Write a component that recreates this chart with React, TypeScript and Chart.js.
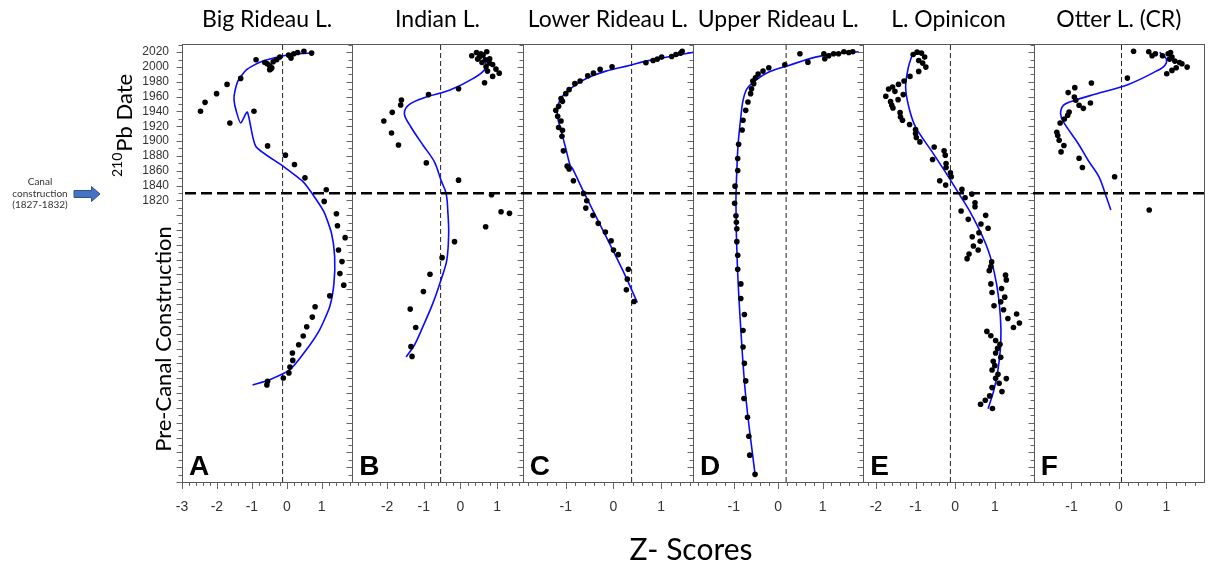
import React, { useEffect, useRef } from 'react';
import { Chart, registerables } from 'chart.js';

Chart.register(...registerables);

// ---------- data ----------
const PANEL_NAMES = ['Big Rideau L.', 'Indian L.', 'Lower Rideau L.', 'Upper Rideau L.', 'L. Opinicon', 'Otter L. (CR)'];
const PANEL_LETTERS = ['A', 'B', 'C', 'D', 'E', 'F'];
const Z_MIN = [-3.0, -2.95, -1.904, -1.917, -2.317, -1.798];
const Z_MAX = [1.876, 1.70, 1.667, 1.918, 1.98, 1.796];
const REF_Z = [-0.12, -0.54, 0.38, 0.18, -0.12, 0.055];
const YEAR_MIN = 1440;
const YEAR_MAX = 2031;
const CANAL_YEAR = 1829.5;
const LABELED_YEARS = [1820, 1840, 1860, 1880, 1900, 1920, 1940, 1960, 1980, 2000, 2020];

// [z-score, year]
const A_POINTS = [
  [0.71, 2018.7], [0.49, 2021.3], [0.31, 2019.6], [0.2, 2017.8], [0.1, 2015], [0.05, 2016], [0.12, 2012],
  [-0.2, 2013.3], [-0.29, 2009.8], [-0.39, 2007], [-0.88, 2009.8], [-0.63, 2006], [-0.56, 2004.4],
  [-0.49, 2001.7], [-0.43, 1999], [-0.49, 1996.3], [-0.45, 1997.5], [-1.32, 1984.6], [-1.71, 1976.5],
  [-2.01, 1964], [-2.34, 1952.3], [-2.47, 1940.2], [-0.94, 1940.2], [-1.63, 1924.4], [-0.55, 1893.5],
  [-0.04, 1881], [0.22, 1868.4], [0.52, 1850.4], [1.13, 1834.3], [1.07, 1818.6], [1.42, 1802],
  [1.45, 1785.8], [1.67, 1769.7], [1.48, 1753], [1.58, 1737.4], [1.52, 1721.2], [1.63, 1705.6],
  [1.23, 1691.2], [0.81, 1676.4], [0.73, 1662.5], [0.57, 1649.5], [0.47, 1637], [0.34, 1625.2],
  [0.16, 1614.1], [0.17, 1604.1], [0.09, 1595.2], [0.06, 1587.2], [-0.1, 1580.4], [-0.55, 1575.9], [-0.57, 1571],
];
const A_LINE = [
  [0.71, 2018.7], [0.28, 2017.8], [-0.2, 2014.2], [-0.77, 2006.5], [-1.15, 1996.3], [-1.39, 1981.9],
  [-1.49, 1966.2], [-1.51, 1955], [-1.44, 1939.2], [-1.32, 1924.4], [-1.13, 1939.2], [-0.89, 1893.1],
  [-0.15, 1867.5], [0.47, 1845], [0.71, 1830.2], [1.06, 1804.7], [1.28, 1775.6], [1.37, 1744.1],
  [1.35, 1708.3], [1.23, 1676.8], [0.94, 1645.4], [0.56, 1618.5], [0.09, 1591.6], [-0.49, 1578.1], [-0.98, 1571],
];

const B_POINTS = [
  [0.31, 2015.2], [0.44, 2019.6], [0.56, 2017.8], [0.72, 2020.5], [0.47, 2010.6], [0.59, 2006.1],
  [0.68, 2009.8], [0.79, 2005.2], [0.88, 2003.4], [0.7, 2000.2], [0.97, 1997.1], [0.74, 1994.4],
  [1.06, 1991.7], [0.88, 1987.3], [0.66, 1978.8], [0.52, 2013.5], [0.62, 2016], [0.8, 2011],
  [-0.05, 1970.7], [-0.87, 1962.7], [-1.61, 1955.4], [-1.63, 1948.7], [-1.86, 1938.8], [-2.09, 1927.1],
  [-1.88, 1911], [-1.69, 1894.8], [-0.93, 1870.6], [-0.05, 1847.3], [0.85, 1827.5], [1.11, 1804.7],
  [1.34, 1802.5], [0.69, 1784.5], [-0.16, 1764.3], [-0.5, 1742.7], [-0.83, 1720.4], [-1.01, 1697],
  [-1.37, 1673.3], [-1.22, 1648.5], [-1.35, 1622.6], [-1.32, 1609.5],
];
const B_LINE = [
  [0.38, 2020.5], [0.63, 2013.3], [0.68, 1997.7], [0.34, 1984.2], [-0.3, 1968.5], [-0.93, 1959.4],
  [-1.39, 1949.6], [-1.53, 1937.1], [-1.35, 1919], [-1.02, 1894.4], [-0.71, 1872], [-0.53, 1847.3],
  [-0.39, 1829.4], [-0.34, 1802.5], [-0.32, 1775.6], [-0.37, 1739.7], [-0.53, 1712.7], [-0.75, 1681.4],
  [-1.02, 1650], [-1.25, 1625.2], [-1.48, 1608.7],
];

const C_POINTS = [
  [1.44, 2021.3], [1.41, 2018.7], [1.31, 2016.9], [1.22, 2014.2], [1.01, 2013.3], [0.92, 2010.6],
  [0.83, 2008.8], [0.68, 2005.7], [-0.03, 2000.2], [-0.28, 1996.7], [-0.42, 1991.7], [-0.54, 1988.2],
  [-0.7, 1981], [-0.81, 1977.5], [-0.93, 1969.4], [-1.0, 1964], [-1.1, 1957.3], [-1.07, 1953.6],
  [-1.15, 1946.9], [-1.21, 1941.5], [-1.17, 1933.5], [-1.1, 1927.1], [-1.15, 1918.3], [-1.07, 1914.6],
  [-1.08, 1906.5], [-1.05, 1886.8], [-0.97, 1866.2], [-0.93, 1862.5], [-0.84, 1846.4], [-0.63, 1829.4],
  [-0.56, 1819.5], [-0.58, 1809.6], [-0.43, 1799.8], [-0.32, 1789], [-0.17, 1777.3], [-0.05, 1765.6],
  [0.0, 1753.1], [0.1, 1746.8], [0.31, 1727.1], [0.29, 1713.7], [0.27, 1699.3], [0.43, 1683.5],
];
const C_LINE = [
  [1.69, 2020], [1.31, 2015.6], [0.68, 2007.9], [0.33, 2002.1], [-0.16, 1994.4], [-0.58, 1984.2],
  [-0.86, 1972.9], [-1.07, 1960.4], [-1.17, 1946], [-1.17, 1931.7], [-1.1, 1914.6], [-1.0, 1890],
  [-0.91, 1867.5], [-0.86, 1863.1], [-0.61, 1829.4], [-0.19, 1775.6], [0.19, 1726.2], [0.5, 1682.2],
];

const D_POINTS = [
  [0.49, 2017.8], [0.67, 2006.5], [1.03, 2017.8], [1.05, 2011.1], [1.14, 2015.2], [1.25, 2017.8],
  [1.36, 2017.8], [1.48, 2020.5], [1.59, 2019.6], [1.68, 2020.5], [0.15, 2003], [-0.21, 1999],
  [-0.34, 1994.4], [-0.45, 1990.4], [-0.51, 1985.5], [-0.57, 1981], [-0.55, 1977.5], [-0.6, 1970.7],
  [-0.62, 1964], [-0.68, 1952.7], [-0.73, 1941.5], [-0.79, 1928.1], [-0.81, 1915], [-0.89, 1895.8],
  [-0.91, 1876.5], [-0.91, 1860.4], [-0.97, 1839.2], [-0.98, 1816], [-0.95, 1799.3], [-0.94, 1790.4],
  [-0.93, 1781.8], [-0.93, 1764.3], [-0.91, 1746], [-0.91, 1727.1], [-0.84, 1707.3], [-0.84, 1687.6],
  [-0.76, 1666], [-0.79, 1644.5], [-0.79, 1622.2], [-0.76, 1600.1], [-0.73, 1576.4], [-0.77, 1552.6],
  [-0.69, 1527.4], [-0.66, 1501.8], [-0.64, 1476.2], [-0.52, 1450.3],
];
const D_LINE = [
  [1.81, 2020.5], [1.36, 2018.7], [0.84, 2013.3], [0.24, 2002.1], [-0.21, 1993.1], [-0.51, 1981.9],
  [-0.7, 1970.7], [-0.79, 1955], [-0.84, 1932.5], [-0.9, 1896.7], [-0.93, 1860.8], [-0.95, 1816],
  [-0.92, 1735.2], [-0.84, 1645.4], [-0.73, 1555.7], [-0.52, 1450.3],
];

const E_POINTS = [
  [-1.06, 2016.9], [-0.96, 2020], [-0.85, 2018.7], [-0.77, 2013.3], [-0.92, 2008.8], [-0.82, 2005.2],
  [-0.74, 1999.8], [-0.92, 1994], [-1.14, 1987.3], [-1.29, 1981], [-1.43, 1976.5], [-1.58, 1972.9],
  [-1.68, 1970.2], [-1.52, 1967.1], [-1.31, 1962.7], [-1.75, 1960.4], [-1.63, 1953.2], [-1.44, 1955.9],
  [-1.6, 1948.3], [-1.57, 1944.6], [-1.39, 1938.4], [-1.38, 1932.5], [-1.33, 1928.1], [-1.15, 1922.3],
  [-1.0, 1915.6], [-1.0, 1910.2], [-0.98, 1904.8], [-0.89, 1898.9], [-0.53, 1892.1], [-0.57, 1875.2],
  [-0.28, 1886.8], [-0.25, 1881], [-0.23, 1869.8], [-0.23, 1864.4], [-0.12, 1857.1], [-0.1, 1851.8],
  [-0.39, 1846.4], [-0.24, 1840.6], [0.17, 1834.8], [0.25, 1823.5], [0.42, 1828.5], [0.15, 1805.6],
  [0.5, 1816.8], [0.5, 1811.4], [0.33, 1794.4], [0.77, 1799.8], [0.65, 1788.1], [0.83, 1782.3],
  [0.6, 1776.4], [0.43, 1771], [0.63, 1764.8], [0.46, 1758.5], [0.58, 1753.1], [0.35, 1747.7],
  [0.3, 1741.4], [0.92, 1737], [0.9, 1730.6], [0.86, 1725.2], [1.27, 1719.1], [1.29, 1712.7],
  [0.9, 1707.3], [1.17, 1701], [0.93, 1695.6], [1.25, 1689.4], [1.15, 1683.1], [0.98, 1677.7],
  [1.22, 1672.4], [1.55, 1666.6], [1.33, 1660.7], [1.62, 1654.5], [1.47, 1648.5], [0.8, 1643.2],
  [0.9, 1637.4], [1.02, 1631], [1.13, 1625.7], [1.07, 1620.3], [1.02, 1614.1], [1.15, 1608.2],
  [0.96, 1602.8], [1.0, 1597], [0.93, 1591.2], [1.08, 1585.3], [1.29, 1579.5], [1.02, 1579.9],
  [1.11, 1573.2], [0.93, 1567.4], [1.18, 1562], [0.87, 1556.2], [0.76, 1550.3], [0.64, 1544.9], [0.94, 1539.1],
];
const E_LINE = [
  [-1.08, 2016.9], [-1.18, 1999.8], [-1.25, 1972.9], [-1.17, 1946], [-1.0, 1919.1], [-0.58, 1885.4],
  [-0.17, 1851.8], [0.09, 1829.4], [0.42, 1800.2], [0.83, 1753.1], [1.04, 1708.3], [1.14, 1663.4],
  [1.15, 1627.5], [1.08, 1591.6], [0.98, 1564.7], [0.83, 1538.7],
];

const F_POINTS = [
  [0.31, 2021.3], [0.63, 2020.5], [0.7, 2015.2], [0.77, 2017.8], [0.92, 2015.2], [1.04, 2017.8],
  [1.09, 2019.6], [1.07, 2010.6], [1.12, 2013.3], [1.18, 2007.9], [1.28, 2006.1], [1.33, 2004.4],
  [1.44, 1999.8], [1.21, 1999], [1.12, 1995.4], [1.01, 1990.9], [0.18, 1985], [-0.58, 1978.3],
  [-0.93, 1972.1], [-1.07, 1965.4], [-0.94, 1959.4], [-0.91, 1955], [-0.6, 1951.4], [-0.84, 1948.3],
  [-0.75, 1944.2], [-1.05, 1939.2], [-1.08, 1934.8], [-1.15, 1929.8], [-1.24, 1924.4], [-1.31, 1911.9],
  [-1.29, 1907.5], [-1.26, 1901.2], [-1.16, 1894], [-1.22, 1885.4], [-0.84, 1876.9], [-0.77, 1864.4],
  [-0.09, 1851.8], [0.64, 1807],
];
const F_LINE = [
  [0.86, 2019.6], [1.0, 2011.1], [0.97, 2002.1], [0.79, 1994.4], [0.2, 1976.5], [-0.51, 1963.1],
  [-0.93, 1955], [-1.17, 1948.3], [-1.23, 1937.1], [-1.17, 1925.8], [-0.86, 1896.7], [-0.65, 1874.2],
  [-0.42, 1851.8], [-0.29, 1829.4], [-0.17, 1807],
];

const POINTS = [A_POINTS, B_POINTS, C_POINTS, D_POINTS, E_POINTS, F_POINTS];
const LINES = [A_LINE, B_LINE, C_LINE, D_LINE, E_LINE, F_LINE];

const toXY = (arr: number[][]) => arr.map(([x, y]) => ({ x, y }));

const TITLE_FONT = 'Lato, "Open Sans", sans-serif';
const isWhole = (v: number) => Math.abs(v - Math.round(v)) < 1e-6;

const decorPlugin = {
  id: 'panelDecor',
  beforeDatasetsDraw(chart: any) {
    const { ctx, chartArea } = chart;
    const yScale = chart.scales.y;
    ctx.save();
    ctx.strokeStyle = '#666';
    ctx.lineWidth = 1;
    for (let i = 0; i < 6; i++) {
      const xs = chart.scales['x' + i];
      const left = Math.round(xs.left) + 0.5;
      for (const t of yScale.ticks) {
        const py = Math.round(yScale.getPixelForValue(t.value)) + 0.5;
        const len = Math.round(t.value) % 20 === 0 ? 6 : 4;
        ctx.beginPath();
        ctx.moveTo(left - len, py);
        ctx.lineTo(left, py);
        ctx.stroke();
      }
      for (const t of xs.ticks) {
        const px = Math.round(xs.getPixelForValue(t.value)) + 0.5;
        ctx.beginPath();
        ctx.moveTo(px, chartArea.bottom);
        ctx.lineTo(px, chartArea.bottom + (isWhole(t.value) ? 7 : 4));
        ctx.stroke();
      }
    }
    ctx.strokeStyle = '#595959';
    for (let i = 0; i < 6; i++) {
      const xs = chart.scales['x' + i];
      ctx.strokeRect(Math.round(xs.left) + 0.5, Math.round(chartArea.top) + 0.5, Math.round(xs.right) - Math.round(xs.left), Math.round(chartArea.bottom - chartArea.top));
    }
    ctx.restore();
  },
  afterDatasetsDraw(chart: any) {
    const { ctx, chartArea } = chart;
    const yScale = chart.scales.y;
    ctx.save();
    const cy = yScale.getPixelForValue(CANAL_YEAR);
    ctx.strokeStyle = '#000';
    ctx.lineWidth = 2.5;
    ctx.setLineDash([11, 5]);
    ctx.beginPath();
    ctx.moveTo(chartArea.left + 3, cy);
    ctx.lineTo(chart.width, cy);
    ctx.stroke();
    ctx.setLineDash([]);

    ctx.fillStyle = '#000';
    for (let i = 0; i < 6; i++) {
      const xs = chart.scales['x' + i];
      ctx.font = `23px ${TITLE_FONT}`;
      ctx.textAlign = 'center';
      ctx.textBaseline = 'alphabetic';
      ctx.fillText(PANEL_NAMES[i], (xs.left + xs.right) / 2, 27);
      ctx.font = 'bold 28px "Liberation Sans", Arial, sans-serif';
      ctx.textAlign = 'left';
      ctx.fillText(PANEL_LETTERS[i], xs.left + 7, chartArea.bottom - 7);
    }

    ctx.save();
    ctx.translate(132, 177);
    ctx.rotate(-Math.PI / 2);
    ctx.textAlign = 'left';
    ctx.font = `14px ${TITLE_FONT}`;
    ctx.fillText('210', 0, -10);
    const w = ctx.measureText('210').width;
    ctx.font = `22px ${TITLE_FONT}`;
    ctx.fillText('Pb Date', w + 1, 0);
    ctx.restore();

    ctx.save();
    ctx.translate(171, 339);
    ctx.rotate(-Math.PI / 2);
    ctx.textAlign = 'center';
    ctx.font = `22px ${TITLE_FONT}`;
    ctx.fillText('Pre-Canal Construction', 0, 0);
    ctx.restore();

    ctx.textAlign = 'center';
    ctx.font = `30px ${TITLE_FONT}`;
    ctx.fillText('Z- Scores', 691, 560);

    ctx.fillStyle = '#333';
    ctx.font = `10px ${TITLE_FONT}`;
    ctx.fillText('Canal', 40, 185);
    ctx.fillText('construction', 40, 197);
    ctx.fillText('(1827-1832)', 40, 208);
    ctx.beginPath();
    ctx.moveTo(74, 190.5);
    ctx.lineTo(91.5, 190.5);
    ctx.lineTo(91.5, 186.5);
    ctx.lineTo(100, 194);
    ctx.lineTo(91.5, 201.5);
    ctx.lineTo(91.5, 197.5);
    ctx.lineTo(74, 197.5);
    ctx.closePath();
    ctx.fillStyle = '#4472C4';
    ctx.fill();
    ctx.strokeStyle = '#2F528F';
    ctx.lineWidth = 1;
    ctx.stroke();
    ctx.restore();
  },
};

export default function App() {
  const canvasRef = useRef<HTMLCanvasElement>(null);

  useEffect(() => {
    const canvas = canvasRef.current;
    if (!canvas) return;
    const datasets: any[] = [];
    const scales: any = {
      y: {
        type: 'linear',
        position: 'left',
        min: YEAR_MIN,
        max: YEAR_MAX,
        bounds: 'data',
        grid: { display: false, drawTicks: false },
        border: { display: false },
        ticks: {
          autoSkip: false,
          padding: 13,
          color: '#333',
          font: { family: '"Liberation Sans", Arial, sans-serif', size: 12 },
          callback: (v: number) => (isWhole(v) && LABELED_YEARS.includes(Math.round(v)) ? String(Math.round(v)) : ''),
        },
        afterBuildTicks: (s: any) => {
          const t: any[] = [];
          for (let v = YEAR_MIN; v <= YEAR_MAX; v += 10) t.push({ value: v });
          s.ticks = t;
        },
        afterFit: (s: any) => { s.width = 182; s.paddingTop = 0; s.paddingBottom = 0; },
      },
    };
    for (let i = 0; i < 6; i++) {
      const xid = 'x' + i;
      scales[xid] = {
        type: 'linear',
        position: 'bottom',
        stack: 'panels',
        stackWeight: 1,
        weight: i,
        min: Z_MIN[i],
        max: Z_MAX[i],
        bounds: 'data',
        grid: { display: false, drawTicks: false },
        border: { display: false },
        ticks: {
          autoSkip: false,
          maxRotation: 0,
          minRotation: 0,
          padding: 17,
          color: '#333',
          font: { family: '"Liberation Sans", Arial, sans-serif', size: 14 },
          callback: (v: number) => (isWhole(v) ? String(Math.round(v)) : ''),
        },
        afterBuildTicks: (s: any) => {
          const t: any[] = [];
          const lo = Math.ceil(Z_MIN[i] * 5 - 1e-9);
          const hi = Math.floor(Z_MAX[i] * 5 + 1e-9);
          for (let k = lo; k <= hi; k++) t.push({ value: k / 5 });
          s.ticks = t;
        },
        afterFit: (s: any) => { s.height = 83; s.paddingLeft = 0; s.paddingRight = 0; },
      };
      datasets.push({
        type: 'line',
        data: [{ x: REF_Z[i], y: YEAR_MIN }, { x: REF_Z[i], y: YEAR_MAX }],
        xAxisID: xid,
        yAxisID: 'y',
        borderColor: '#222',
        borderWidth: 1,
        borderDash: [5, 3],
        pointRadius: 0,
        order: 3,
      });
      datasets.push({
        type: 'line',
        data: toXY(LINES[i]),
        xAxisID: xid,
        yAxisID: 'y',
        borderColor: '#0a0aff',
        borderWidth: 1.6,
        pointRadius: 0,
        tension: i === 0 ? 0.2 : 0.35,
        order: 2,
      });
      datasets.push({
        type: 'scatter',
        data: toXY(POINTS[i]),
        xAxisID: xid,
        yAxisID: 'y',
        pointRadius: 2.8,
        pointBackgroundColor: '#000',
        pointBorderWidth: 0,
        backgroundColor: '#000',
        borderColor: '#000',
        order: 1,
      });
    }

    const chart = new Chart(canvas, {
      type: 'scatter',
      data: { datasets },
      options: {
        responsive: false,
        animation: false,
        devicePixelRatio: 1,
        layout: { padding: { left: 0, right: 2, top: 44, bottom: 0 } },
        scales,
        plugins: { legend: { display: false }, tooltip: { enabled: false }, title: { display: false } },
        events: [],
      } as any,
      plugins: [decorPlugin],
    });
    return () => chart.destroy();
  }, []);

  return (
    <div style={{ position: 'fixed', left: 0, top: 0, width: 1208, height: 565, background: '#fff' }}>
      <canvas ref={canvasRef} width={1208} height={565} style={{ display: 'block' }} />
    </div>
  );
}
